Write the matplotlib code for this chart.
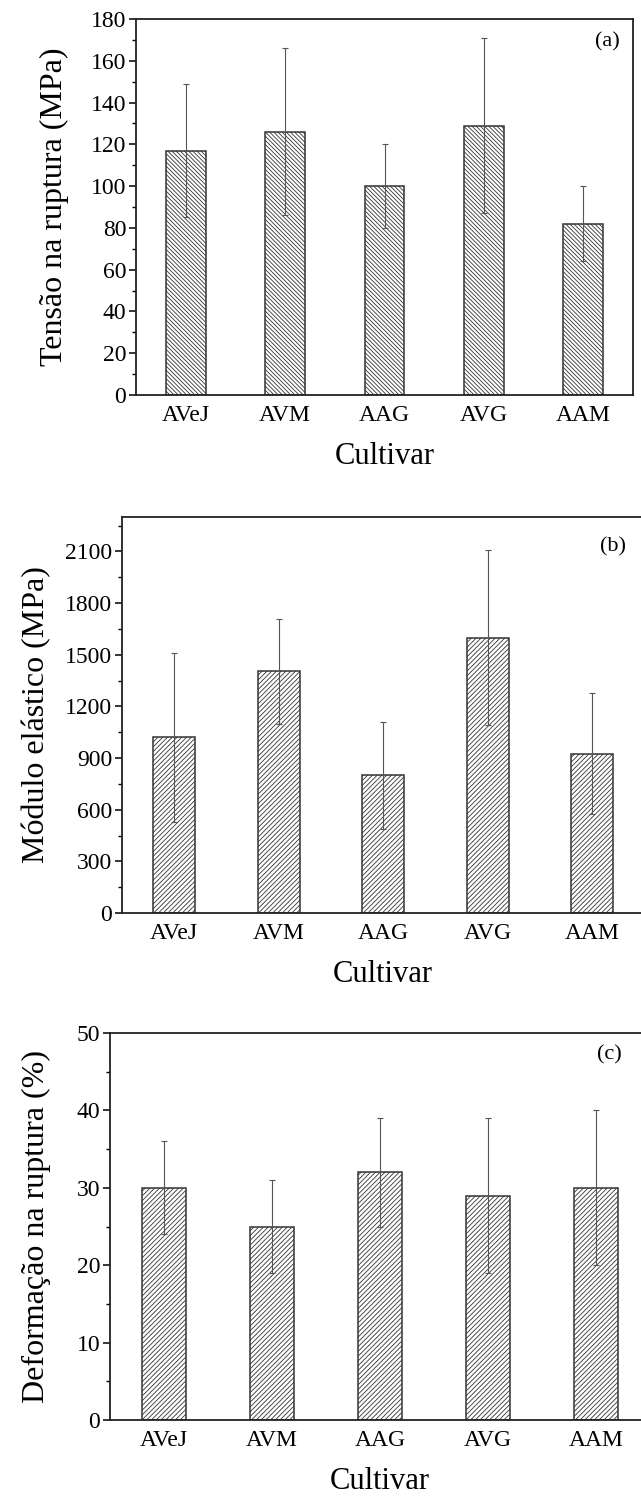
import matplotlib
matplotlib.use("Agg")
import matplotlib.pyplot as plt
from matplotlib.ticker import MultipleLocator

plt.rcParams['font.family'] = ['Liberation Serif', 'DejaVu Serif']
plt.rcParams['hatch.linewidth'] = 0.6

categories = ["AVeJ", "AVM", "AAG", "AVG", "AAM"]

tensao = [117, 126, 100, 129, 82]
tensao_err = [32, 40, 20, 42, 18]

modulo = [1020, 1405, 800, 1600, 925]
modulo_err = [490, 305, 310, 508, 350]

deform = [30, 25, 32, 29, 30]
deform_err = [6, 6, 7, 10, 10]

W, H = 641, 1497
fig = plt.figure(figsize=(W / 100, H / 100), dpi=100)


def make_ax(left, right, top, bottom):
    return fig.add_axes([left / W, 1 - bottom / H, (right - left) / W, (bottom - top) / H])


panels = [
    dict(box=(136, 633, 19, 395), vals=tensao, err=tensao_err, ymax=180, major=20, minor=10,
         ylabel="Tensão na ruptura (MPa)", hatch="\\" * 8, tag="(a)", tagpos=(0.948, 0.94),
         ylabelx=63),
    dict(box=(122, 644.5, 517, 913), vals=modulo, err=modulo_err, ymax=2300, major=300, minor=150,
         ylabel="Módulo elástico (MPa)", hatch="/" * 7, tag="(b)", tagpos=(0.94, 0.924),
         ylabelx=45),
    dict(box=(110, 650, 1033, 1420), vals=deform, err=deform_err, ymax=50, major=10, minor=5,
         ylabel="Deformação na ruptura (%)", hatch="/" * 7, tag="(c)", tagpos=(0.924, 0.943),
         ylabelx=45),
]

x = list(range(len(categories)))
for p in panels:
    ax = make_ax(*p["box"])
    ax.bar(x, p["vals"], width=0.4, color="white", edgecolor="#333333", linewidth=1.1,
           hatch=p["hatch"], zorder=2)
    ax.errorbar(x, p["vals"], yerr=p["err"], fmt="none", ecolor="#555555", elinewidth=0.8,
                capsize=2.5, capthick=0.8, zorder=3)
    ax.set_xlim(-0.5, 4.5)
    ax.set_ylim(0, p["ymax"])
    ax.yaxis.set_major_locator(MultipleLocator(p["major"]))
    ax.yaxis.set_minor_locator(MultipleLocator(p["minor"]))
    ax.set_xticks(x)
    ax.set_xticklabels(categories, fontsize=17)
    ax.tick_params(axis="x", length=0, pad=7)
    ax.tick_params(axis="y", which="major", direction="out", length=5, width=1.1, labelsize=17, pad=2)
    ax.tick_params(axis="y", which="minor", direction="out", length=3, width=1.0)
    for s in ax.spines.values():
        s.set_linewidth(1.3)
        s.set_color("#222222")
    ax.set_ylabel(p["ylabel"], fontsize=23)
    # place right edge of the rotated label at a given pixel x
    left_px = p["box"][0]
    ax.yaxis.set_label_coords((p["ylabelx"] + 6 - left_px) / (p["box"][1] - left_px), 0.5)
    ax.set_xlabel("Cultivar", fontsize=22, labelpad=12)
    ax.text(p["tagpos"][0], p["tagpos"][1], p["tag"], transform=ax.transAxes, fontsize=16,
            ha="center", va="center")

fig.savefig("out.png", dpi=100)
